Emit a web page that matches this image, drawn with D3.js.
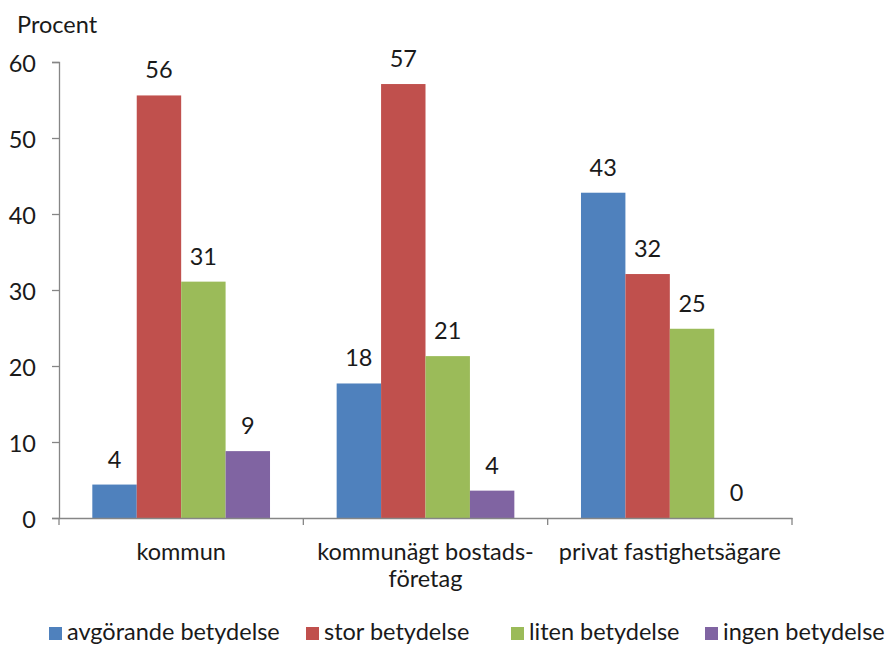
<!DOCTYPE html>
<html>
<head>
<meta charset="utf-8">
<script src="https://cdn.jsdelivr.net/npm/d3@7/dist/d3.min.js"></script>
<style>
  body { margin: 0; background: #fff; }
  text { font-family: Lato, "Open Sans", sans-serif; fill: #1a1a1a; }
</style>
</head>
<body>
<svg id="chart" width="892" height="645"></svg>
<script>
// Categories (each may wrap onto two lines)
const categories = ["kommun", "kommunägt bostads-företag", "privat fastighetsägare"];
const categoryLines = [["kommun"], ["kommunägt bostads-", "företag"], ["privat fastighetsägare"]];
const seriesNames = ["avgörande betydelse", "stor betydelse", "liten betydelse", "ingen betydelse"];
const seriesColors = ["#4F81BD", "#C0504D", "#9BBB59", "#8064A2"];

// Percent values per series, ordered by category
const avgorande = [4.4, 17.7, 42.8];
const stor = [55.6, 57.1, 32.1];
const liten = [31.1, 21.3, 24.9];
const ingen = [8.8, 3.6, 0];
const yTicks = [0, 10, 20, 30, 40, 50, 60];

const seriesValues = [avgorande, stor, liten, ingen];

const FONT = "23.5px";
const svg = d3.select("#chart");
const plot = { left: 59, right: 792, top: 62, bottom: 518 };

const x0 = d3.scaleBand().domain(categories).range([plot.left, plot.right]).paddingInner(0).paddingOuter(0);
// 150% gap width between groups, bars touching within a group
const barW = x0.bandwidth() / (4 + 1.5);
const x1 = d3.scaleBand().domain(seriesNames).range([0, barW * 4]);
const y = d3.scaleLinear().domain([0, 60]).range([plot.bottom, plot.top]);

// Y axis
const yAxis = d3.axisLeft(y).tickValues(yTicks).tickSize(7).tickPadding(16).tickFormat(d3.format("d"));
const gy = svg.append("g").attr("transform", `translate(${plot.left},0)`).call(yAxis);
gy.select(".domain").attr("stroke", "#868686").attr("stroke-width", 1.3);
gy.selectAll(".tick line").attr("stroke", "#868686").attr("stroke-width", 1.3);
gy.selectAll(".tick text").style("font-size", FONT).attr("fill", "#1a1a1a")
  .attr("font-family", "Lato").attr("dy", "0.42em");

svg.append("text").attr("x", 17).attr("y", 33).style("font-size", FONT).text("Procent");

// Bars
const groups = svg.append("g").selectAll("g")
  .data(categories)
  .join("g")
  .attr("transform", d => `translate(${x0(d) + barW * 0.75},0)`);

groups.selectAll("rect")
  .data((c, i) => seriesNames.map((s, j) => ({ s, v: seriesValues[j][i], j })))
  .join("rect")
  .attr("x", d => x1(d.s))
  .attr("width", x1.bandwidth())
  .attr("y", d => y(d.v))
  .attr("height", d => y(0) - y(d.v))
  .attr("fill", d => seriesColors[d.j]);

groups.selectAll("text.val")
  .data((c, i) => seriesNames.map((s, j) => ({ s, v: seriesValues[j][i], j })))
  .join("text")
  .attr("class", "val")
  .attr("x", d => x1(d.s) + x1.bandwidth() / 2)
  .attr("y", d => y(d.v) - 17)
  .attr("text-anchor", "middle")
  .style("font-size", FONT)
  .text(d => d3.format(".0f")(d.v));

// X axis
const xAxis = d3.axisBottom(x0).tickValues([]).tickSizeOuter(0);
const gx = svg.append("g").attr("transform", `translate(0,${plot.bottom})`).call(xAxis);
gx.select(".domain").attr("stroke", "#868686").attr("stroke-width", 1.3);
const boundaries = categories.map(c => x0(c)).concat([plot.right]);
gx.selectAll("line.sep").data(boundaries).join("line")
  .attr("class", "sep")
  .attr("x1", d => d).attr("x2", d => d)
  .attr("y1", 0).attr("y2", 7)
  .attr("stroke", "#868686").attr("stroke-width", 1.3);

const catLabels = svg.append("g").selectAll("text")
  .data(categories)
  .join("text")
  .attr("text-anchor", "middle")
  .style("font-size", FONT)
  .attr("x", d => x0(d) + x0.bandwidth() / 2)
  .attr("y", 560);
catLabels.each(function(d, i) {
  d3.select(this).selectAll("tspan").data(categoryLines[i]).join("tspan")
    .attr("x", x0(d) + x0.bandwidth() / 2)
    .attr("dy", (t, k) => k === 0 ? 0 : 27)
    .text(t => t);
});

// Legend
const legendX = [49, 306, 511, 705];
const legend = svg.append("g").selectAll("g")
  .data(seriesNames)
  .join("g")
  .attr("transform", (d, i) => `translate(${legendX[i]},627)`);
legend.append("rect").attr("width", 13).attr("height", 13).attr("fill", (d, i) => seriesColors[i]);
legend.append("text").attr("x", 18).attr("y", 13).style("font-size", FONT).text(d => d);
</script>
</body>
</html>
